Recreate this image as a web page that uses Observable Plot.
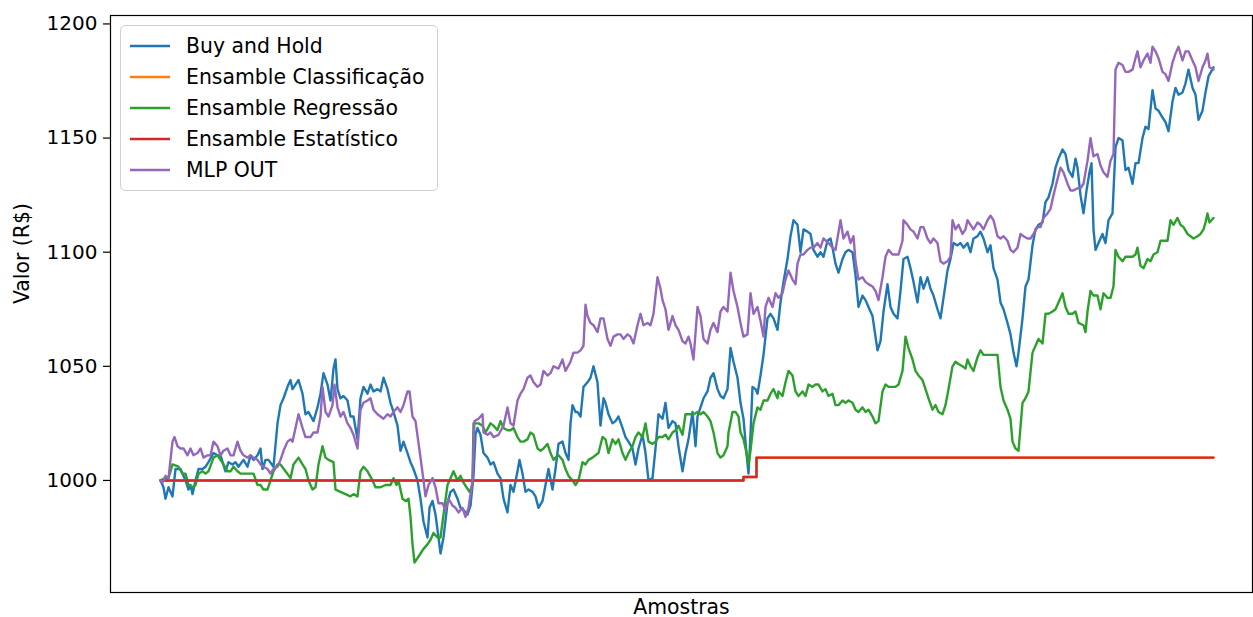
<!DOCTYPE html>
<html>
<head>
<meta charset="utf-8">
<script src="https://cdn.jsdelivr.net/npm/d3@7"></script>
<script src="https://cdn.jsdelivr.net/npm/@observablehq/plot@0.6"></script>
<style>
  body { margin: 0; background: #fff; }
  #wrap { position: relative; width: 1253px; height: 617px; font-family: "DejaVu Sans", sans-serif; }
  #legend {
    position: absolute; left: 120px; top: 25px; width: 318px; height: 166px;
    box-sizing: border-box; border: 1px solid #d0d0d0; border-radius: 5px;
    background: rgba(255,255,255,0.85);
  }
  #legend .row { position: absolute; left: 0; height: 24px; width: 100%; }
  #legend .row svg { position: absolute; left: 9px; top: 0; }
  #legend .row span { position: absolute; left: 65px; top: 0; line-height: 24px; font-size: 20.4px; color: #000; white-space: nowrap; }
</style>
</head>
<body>
<div id="wrap"><div id="legend"></div></div>
<script>
// Portfolio value (R$) per sample: [amostra, valor]
const buyHold = [[0,1000],[3,997],[5,992],[8,997],[12,993],[15,1005],[20,1005],[25,1000],[28,996],[30,998],[32,994],[35,1000],[38,1005],[42,1005],[45,1006],[48,1008],[53,1012],[57,1011],[60,1011],[65,1004],[68,1008],[72,1007],[75,1008],[78,1006],[83,1009],[87,1006],[90,1011],[93,1009],[97,1011],[100,1014],[102,1005],[105,1009],[108,1009],[113,1006],[117,1025],[120,1033],[123,1036],[127,1041],[130,1044],[132,1040],[135,1042],[138,1044],[142,1038],[145,1029],[148,1030],[153,1026],[157,1032],[160,1038],[163,1047],[167,1042],[170,1035],[173,1049],[175,1053],[177,1040],[180,1036],[183,1037],[187,1035],[190,1028],[193,1028],[197,1018],[200,1036],[203,1041],[207,1038],[210,1042],[213,1039],[217,1040],[220,1039],[223,1045],[227,1040],[230,1034],[233,1030],[237,1024],[240,1013],[243,1017],[247,1012],[250,1008],[253,1005],[257,1000],[260,992],[263,982],[267,975],[269,988],[272,991],[275,985],[278,975],[280,968],[283,975],[287,990],[290,995],[293,996],[297,992],[300,988],[303,987],[307,985],[310,989],[313,1002],[315,1020],[317,1023],[320,1020],[323,1012],[327,1010],[330,1007],[333,1008],[337,1003],[340,1001],[343,992],[347,986],[350,998],[353,995],[357,1004],[359,1009],[362,1003],[365,995],[368,996],[372,995],[375,993],[378,988],[382,991],[385,998],[388,1005],[392,996],[395,1005],[398,1016],[402,1017],[405,1012],[408,1009],[410,1025],[412,1033],[415,1030],[417,1030],[420,1028],[423,1041],[427,1043],[430,1045],[433,1050],[437,1043],[440,1024],[443,1036],[445,1034],[448,1029],[452,1025],[455,1026],[458,1028],[462,1023],[465,1019],[468,1017],[472,1014],[475,1007],[478,1014],[482,1020],[485,1012],[488,1000],[492,1001],[495,1014],[498,1029],[502,1027],[505,1034],[508,1023],[512,1026],[515,1025],[518,1015],[522,1004],[525,1012],[528,1018],[532,1030],[535,1015],[537,1028],[540,1032],[543,1036],[547,1039],[550,1045],[553,1047],[557,1040],[560,1037],[563,1036],[567,1040],[570,1058],[573,1052],[577,1045],[580,1034],[583,1027],[586,1012],[588,1003],[590,1020],[592,1041],[595,1040],[597,1038],[600,1046],[603,1055],[607,1071],[610,1073],[613,1071],[617,1066],[620,1078],[623,1087],[627,1097],[630,1107],[633,1114],[637,1112],[640,1100],[643,1110],[647,1109],[650,1108],[653,1101],[657,1098],[660,1100],[663,1098],[667,1105],[670,1106],[672,1102],[675,1095],[678,1091],[682,1097],[685,1100],[688,1101],[692,1100],[695,1090],[698,1076],[702,1081],[705,1079],[708,1076],[712,1072],[715,1063],[717,1057],[720,1061],[723,1074],[727,1086],[730,1076],[733,1073],[737,1071],[740,1083],[743,1097],[747,1098],[750,1093],[753,1087],[757,1078],[760,1089],[763,1084],[767,1089],[770,1084],[773,1081],[777,1075],[780,1071],[783,1080],[787,1092],[790,1097],[793,1104],[797,1103],[800,1104],[803,1102],[807,1104],[810,1100],[813,1106],[817,1107],[820,1109],[823,1106],[827,1100],[830,1103],[833,1093],[837,1088],[840,1078],[843,1075],[847,1069],[850,1064],[853,1056],[856,1050],[858,1056],[862,1071],[865,1085],[868,1088],[872,1103],[875,1110],[878,1112],[882,1113],[885,1122],[888,1124],[892,1130],[895,1137],[898,1141],[902,1145],[905,1143],[908,1136],[912,1133],[915,1141],[917,1137],[920,1125],[923,1117],[926,1127],[929,1135],[931,1139],[933,1110],[935,1101],[938,1104],[942,1108],[945,1104],[948,1114],[952,1117],[955,1146],[958,1150],[962,1149],[965,1136],[968,1137],[972,1130],[975,1139],[978,1139],[982,1150],[985,1155],[988,1154],[992,1171],[995,1163],[998,1162],[1002,1159],[1005,1157],[1008,1153],[1012,1166],[1015,1172],[1018,1169],[1022,1170],[1025,1174],[1028,1180],[1032,1172],[1035,1169],[1038,1158],[1042,1162],[1045,1170],[1048,1177],[1053,1181]];

const ensambleRegressao = [[0,1000],[5,1001],[8,1001],[12,1007],[18,1006],[22,1003],[25,1003],[28,998],[32,997],[35,998],[38,1003],[42,1004],[45,1003],[48,1004],[53,1010],[57,1011],[60,1009],[63,1007],[67,1004],[70,1004],[73,1006],[77,1004],[80,1003],[87,1003],[93,1003],[97,998],[100,998],[103,996],[107,996],[110,1000],[113,1004],[117,1007],[120,1007],[125,1004],[130,1001],[133,1007],[138,1010],[142,1007],[145,1005],[148,1000],[152,996],[155,997],[158,1007],[162,1015],[165,1010],[168,1009],[173,1008],[175,996],[180,995],[185,994],[190,993],[193,994],[197,993],[200,1004],[203,1006],[207,1004],[212,1000],[215,997],[220,997],[225,998],[230,998],[233,1001],[236,998],[238,1000],[242,992],[245,991],[248,992],[250,984],[252,972],[254,964],[257,966],[260,968],[263,970],[267,972],[270,974],[273,977],[277,975],[280,975],[283,985],[287,998],[290,1001],[293,1004],[297,1000],[300,1002],[303,999],[306,997],[309,995],[312,998],[313,1025],[318,1025],[322,1024],[325,1021],[330,1025],[333,1024],[337,1022],[340,1026],[343,1023],[347,1022],[350,1022],[353,1023],[357,1019],[360,1017],[363,1017],[367,1018],[370,1021],[373,1020],[377,1014],[380,1013],[383,1014],[387,1016],[390,1012],[393,1009],[395,1010],[398,1011],[402,1009],[405,1005],[408,1002],[412,1000],[415,998],[418,1000],[422,1008],[425,1007],[428,1009],[432,1010],[435,1011],[438,1012],[442,1019],[445,1018],[448,1012],[452,1018],[455,1016],[458,1018],[462,1012],[465,1009],[468,1012],[472,1015],[475,1019],[478,1021],[482,1019],[485,1025],[488,1017],[492,1016],[495,1017],[498,1019],[502,1019],[505,1020],[508,1018],[512,1021],[515,1022],[518,1024],[522,1020],[525,1029],[528,1029],[533,1029],[537,1030],[540,1029],[543,1030],[547,1028],[550,1026],[553,1021],[557,1012],[560,1010],[563,1011],[567,1015],[568,1021],[572,1030],[575,1030],[578,1028],[580,1021],[583,1018],[587,1010],[588,1007],[590,1013],[593,1025],[597,1032],[600,1031],[603,1035],[607,1035],[610,1038],[613,1040],[617,1036],[618,1039],[622,1037],[625,1043],[628,1048],[632,1046],[635,1039],[638,1037],[642,1039],[645,1037],[648,1042],[652,1041],[655,1042],[658,1042],[662,1039],[665,1040],[668,1037],[672,1038],[675,1033],[678,1033],[682,1035],[685,1034],[688,1035],[692,1034],[695,1031],[698,1030],[702,1032],[705,1030],[708,1031],[712,1028],[715,1025],[718,1026],[722,1039],[725,1042],[728,1041],[735,1041],[738,1042],[742,1048],[745,1063],[748,1058],[752,1053],[755,1048],[758,1046],[762,1044],[765,1040],[768,1036],[772,1031],[775,1033],[778,1030],[782,1029],[785,1033],[788,1040],[792,1050],[795,1052],[798,1051],[802,1050],[805,1049],[807,1053],[810,1050],[813,1048],[817,1054],[820,1057],[823,1055],[837,1055],[840,1041],[843,1035],[847,1031],[850,1027],[852,1017],[855,1014],[858,1013],[862,1034],[865,1036],[868,1039],[872,1056],[875,1059],[878,1062],[882,1060],[885,1073],[888,1073],[892,1074],[895,1075],[898,1078],[902,1082],[905,1076],[908,1073],[912,1073],[915,1074],[918,1069],[923,1068],[925,1065],[927,1074],[930,1083],[933,1081],[937,1081],[940,1075],[943,1082],[947,1080],[950,1080],[953,1085],[955,1101],[958,1098],[962,1096],[965,1098],[972,1098],[975,1099],[977,1102],[980,1094],[983,1093],[987,1097],[990,1096],[993,1099],[997,1100],[1000,1105],[1007,1105],[1010,1114],[1013,1112],[1017,1115],[1020,1112],[1023,1111],[1027,1108],[1033,1106],[1037,1107],[1040,1108],[1043,1110],[1045,1113],[1047,1117],[1049,1113],[1053,1115]];

// Step series: each value holds until the next sample listed
const ensambleClassificacao = [[0,1000],[583,1001.5],[596,1010],[1053,1010]];
const ensambleEstatistico = [[0,1000],[583,1001.5],[596,1010],[1053,1010]];

const mlpOut = [[0,1000],[2,999],[5,1002],[8,1001],[12,1017],[14,1019],[17,1015],[20,1014],[23,1014],[27,1011],[30,1014],[33,1011],[37,1012],[40,1014],[43,1010],[47,1011],[50,1011],[53,1017],[57,1015],[60,1011],[63,1013],[67,1014],[70,1011],[73,1011],[77,1017],[80,1013],[83,1011],[87,1010],[90,1011],[93,1010],[97,1009],[100,1007],[103,1006],[107,1005],[110,1003],[113,1005],[117,1006],[120,1009],[123,1013],[127,1017],[130,1018],[132,1017],[135,1023],[138,1029],[142,1023],[145,1019],[150,1019],[153,1021],[157,1021],[160,1028],[162,1041],[165,1030],[168,1028],[172,1033],[174,1042],[177,1032],[180,1028],[183,1030],[187,1025],[190,1023],[193,1020],[197,1014],[200,1031],[203,1034],[207,1035],[210,1036],[213,1031],[217,1029],[220,1028],[223,1027],[227,1029],[230,1028],[233,1030],[237,1032],[240,1030],[243,1033],[247,1039],[249,1039],[252,1028],[255,1026],[260,1010],[263,1000],[265,993],[268,998],[272,1001],[275,997],[278,990],[282,990],[285,987],[288,992],[292,989],[295,988],[298,986],[302,988],[305,984],[308,988],[312,1000],[314,1026],[318,1027],[322,1029],[323,1021],[327,1020],[330,1021],[333,1019],[338,1020],[343,1024],[347,1032],[350,1025],[353,1024],[357,1035],[360,1038],[363,1040],[367,1045],[370,1046],[373,1043],[377,1041],[380,1042],[383,1048],[387,1046],[390,1047],[393,1050],[398,1049],[402,1053],[405,1048],[410,1052],[413,1056],[417,1056],[420,1057],[423,1059],[425,1077],[427,1072],[430,1069],[433,1068],[437,1065],[440,1071],[443,1071],[447,1062],[450,1059],[453,1063],[457,1064],[460,1064],[463,1062],[467,1064],[470,1063],[473,1060],[477,1068],[480,1073],[483,1068],[487,1069],[490,1068],[493,1073],[497,1089],[500,1084],[502,1079],[505,1075],[508,1066],[512,1072],[515,1068],[518,1066],[522,1061],[525,1060],[528,1063],[530,1060],[533,1053],[537,1076],[540,1072],[543,1062],[547,1060],[550,1066],[553,1069],[557,1065],[560,1074],[563,1076],[567,1074],[570,1091],[573,1083],[577,1076],[580,1069],[583,1063],[587,1064],[590,1082],[593,1073],[597,1076],[600,1070],[603,1063],[605,1076],[608,1080],[612,1076],[615,1082],[618,1080],[622,1082],[625,1088],[628,1092],[632,1088],[635,1086],[637,1095],[640,1099],[643,1099],[647,1101],[650,1102],[653,1102],[657,1104],[660,1102],[663,1106],[668,1104],[672,1102],[675,1101],[680,1114],[683,1106],[687,1109],[690,1104],[693,1107],[695,1096],[698,1088],[702,1089],[705,1087],[708,1086],[712,1085],[715,1083],[718,1079],[722,1089],[725,1098],[728,1101],[732,1099],[735,1099],[738,1099],[742,1105],[743,1114],[747,1112],[750,1110],[753,1109],[757,1106],[760,1111],[763,1111],[767,1106],[770,1104],[773,1106],[777,1104],[780,1096],[783,1095],[787,1096],[790,1098],[792,1114],[795,1110],[798,1112],[802,1108],[805,1110],[807,1114],[810,1112],[813,1110],[817,1113],[820,1112],[823,1110],[827,1114],[830,1116],[833,1114],[837,1107],[840,1106],[843,1107],[847,1105],[850,1101],[853,1100],[857,1102],[860,1108],[863,1107],[867,1106],[870,1106],[873,1108],[877,1111],[880,1111],[883,1115],[887,1117],[890,1119],[893,1125],[897,1132],[900,1137],[903,1135],[907,1130],[910,1127],[913,1127],[917,1128],[920,1128],[923,1130],[927,1140],[930,1150],[933,1142],[937,1143],[940,1138],[943,1135],[947,1133],[950,1140],[953,1143],[955,1180],[958,1183],[962,1182],[965,1179],[968,1179],[972,1180],[975,1185],[977,1188],[980,1181],[983,1184],[987,1187],[990,1183],[992,1190],[995,1188],[998,1185],[1002,1179],[1005,1178],[1008,1175],[1012,1183],[1015,1187],[1018,1190],[1022,1184],[1025,1188],[1028,1188],[1032,1184],[1035,1181],[1038,1175],[1042,1181],[1045,1184],[1047,1187],[1049,1181],[1053,1180]];

const seriesNames = ["Buy and Hold", "Ensamble Classificação", "Ensamble Regressão", "Ensamble Estatístico", "MLP OUT"];
const seriesColors = ["#1f77b4", "#ff7f0e", "#2ca02c", "#d62728", "#9467bd"];
const seriesData = [buyHold, ensambleClassificacao, ensambleRegressao, ensambleEstatistico, mlpOut];
const stepped = [false, true, false, true, false];

const yTicks = [1000, 1050, 1100, 1150, 1200];
const xLabel = "Amostras";
const yLabel = "Valor (R$)";

const chart = Plot.plot({
  width: 1253,
  height: 617,
  marginLeft: 110,
  marginRight: 1,
  marginTop: 15,
  marginBottom: 25,
  style: { fontFamily: "DejaVu Sans, sans-serif", fontSize: "20px", color: "#000", background: "#fff", overflow: "visible" },
  x: { domain: [-50, 1092], axis: null },
  y: { domain: [950.9, 1203.7], label: null },
  marks: [
    Plot.axisY(yTicks, { tickSize: 7, tickPadding: 6, strokeWidth: 1.2, fontSize: 20, label: null, tickFormat: d => String(d) }),
    ...seriesData.map((data, i) => Plot.line(data, {
      x: d => d[0],
      y: d => d[1],
      stroke: seriesColors[i],
      strokeWidth: 2.4,
      curve: stepped[i] ? "step-after" : "linear"
    })),
    Plot.frame({ stroke: "#000", strokeWidth: 1.2 }),
    Plot.text([xLabel], { text: d => d, frameAnchor: "bottom", dy: 21, fontSize: 20.4 }),
    Plot.text([yLabel], { text: d => d, frameAnchor: "left", dx: -88, rotate: -90, fontSize: 20.4 })
  ]
});

const wrap = document.getElementById("wrap");
wrap.insertBefore(chart, wrap.firstChild);

// Legend box in the upper-left corner of the axes
const legend = document.getElementById("legend");
seriesNames.forEach((name, i) => {
  const row = document.createElement("div");
  row.className = "row";
  row.style.top = (8 + 31 * i) + "px";
  row.innerHTML = `<svg width="41" height="24"><line x1="0" x2="40" y1="12" y2="12" stroke="${seriesColors[i]}" stroke-width="2.4"/></svg><span>${name}</span>`;
  legend.appendChild(row);
});
</script>
</body>
</html>
